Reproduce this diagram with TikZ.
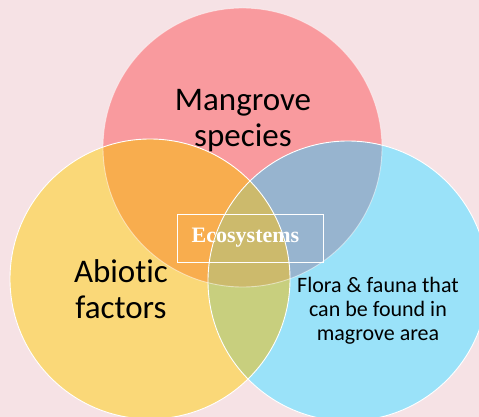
\documentclass[tikz,border=0pt]{standalone}
\usepackage{fontspec}
\setmainfont{Carlito}[Ligatures=NoCommon]
\newfontfamily\ecofont{Liberation Serif}
\usepackage{xcolor}
\usetikzlibrary{positioning}
\definecolor{bgpink}{HTML}{F6E2E5}
\definecolor{redset}{HTML}{F99A9E}
\definecolor{yellowset}{HTML}{FAD878}
\definecolor{blueset}{HTML}{9AE2F9}
\definecolor{redyellow}{HTML}{F8AD4E}
\definecolor{redblue}{HTML}{97B4CF}
\definecolor{yellowblue}{HTML}{C8CF7E}
\definecolor{allthree}{HTML}{CCBA6C}
\tikzset{
  setcircle/.style={draw=white,line width=0.9pt},
  setlabel/.style={align=center,text=black,inner sep=0pt,
    font=\fontsize{33}{36}\selectfont},
  smalllabel/.style={align=center,text=black,inner sep=0pt,
    font=\fontsize{22}{24}\selectfont},
  ecoframe/.style={draw=white,line width=0.8pt,minimum width=146pt,
    minimum height=48pt,inner sep=0pt},
  ecotext/.style={text=white,inner sep=0pt,
    font=\ecofont\bfseries\fontsize{22}{24}\selectfont}
}

\begin{document}
\begin{tikzpicture}[x=1pt,y=-1pt]
  \clip (0,0) rectangle (479,417);
  \fill[bgpink] (0,0) rectangle (479,417);
  % set centres
  \coordinate (mc) at (242.5,147.5);
  \coordinate (ac) at (150,279);
  \coordinate (fc) at (348,281);
  % three discs
  \fill[redset] (mc) circle[radius=139.5pt];
  \fill[yellowset] (ac) circle[radius=140pt];
  \fill[blueset] (fc) circle[radius=140pt];
  % overlaps
  \begin{scope}
    \clip (mc) circle[radius=139.5pt];
    \fill[redyellow] (ac) circle[radius=140pt];
    \fill[redblue] (fc) circle[radius=140pt];
  \end{scope}
  \begin{scope}
    \clip (ac) circle[radius=140pt];
    \fill[yellowblue] (fc) circle[radius=140pt];
    \clip (mc) circle[radius=139.5pt];
    \fill[allthree] (fc) circle[radius=140pt];
  \end{scope}
  % white rims
  \draw[setcircle,draw opacity=0.5] (mc) circle[radius=139.5pt];
  \draw[setcircle] (ac) circle[radius=140pt];
  \draw[setcircle] (fc) circle[radius=140pt];
  % labels
  \node[setlabel] (mangrove) at (243,121) {Mangrove\\species};
  \node[setlabel] (abiotic) at (121,289) {Abiotic\\factors};
  \node[smalllabel] (flora) at (378,311) {Flora \& fauna that\\can be found in\\magrove area};
  \node[ecoframe] (frame) at (250,238) {};
  \node[ecotext] (eco) at (245.5,238) {Ecosystems};
\end{tikzpicture}
\end{document}
